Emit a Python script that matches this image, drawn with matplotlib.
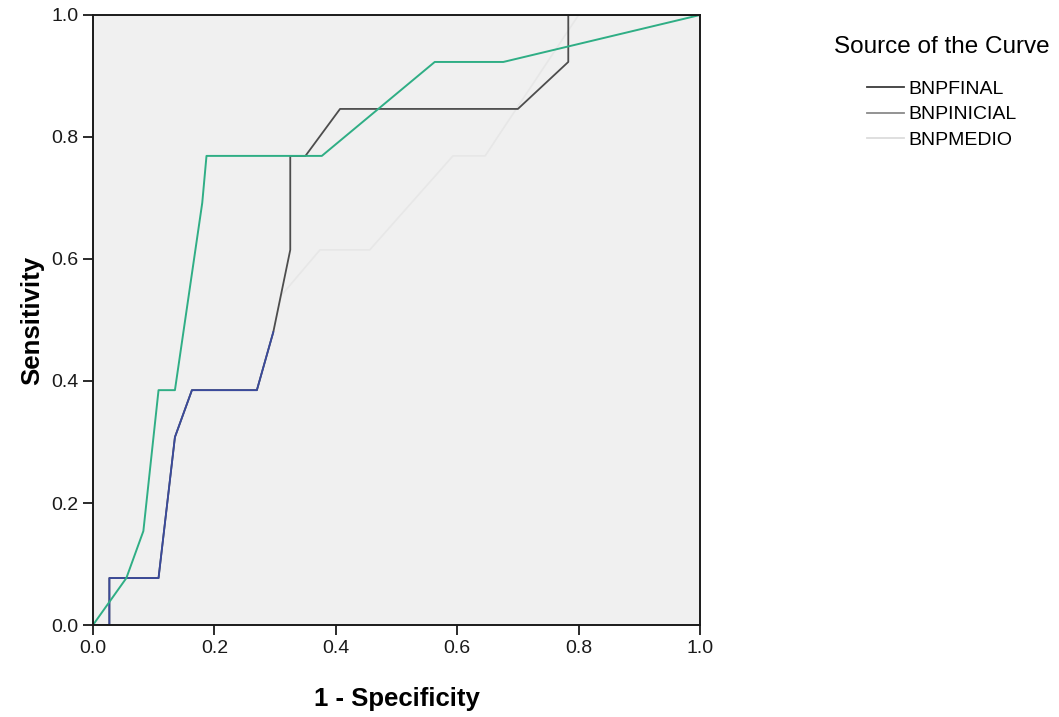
import matplotlib
matplotlib.use("Agg")
from matplotlib import pyplot as plt

plt.rcParams['font.family'] = ['Liberation Sans', 'DejaVu Sans']

# ROC points (1 - specificity, sensitivity)
fpr_final = [0.0, 0.027, 0.027, 0.108, 0.135, 0.163, 0.270, 0.297, 0.325, 0.325,
             0.350, 0.407, 0.700, 0.783, 0.783, 1.0]
tpr_final = [0.0, 0.0, 0.077, 0.077, 0.308, 0.385, 0.385, 0.480, 0.615, 0.769,
             0.769, 0.846, 0.846, 0.923, 1.0, 1.0]

fpr_inicial = [0.0, 0.055, 0.083, 0.108, 0.135, 0.180, 0.187, 0.377, 0.563, 0.676, 1.0]
tpr_inicial = [0.0, 0.077, 0.154, 0.385, 0.385, 0.692, 0.769, 0.769, 0.923, 0.923, 1.0]

# BNPMEDIO: only the lower part survives clearly, the rest is barely visible
fpr_medio = [0.0, 0.027, 0.027, 0.108, 0.135, 0.163, 0.270, 0.297,
             0.310, 0.374, 0.456, 0.593, 0.646, 0.800, 1.0]
tpr_medio = [0.0, 0.0, 0.077, 0.077, 0.308, 0.385, 0.385, 0.480,
             0.540, 0.615, 0.615, 0.769, 0.769, 1.0, 1.0]
medio_visible = 8

series_names = ['BNPFINAL', 'BNPINICIAL', 'BNPMEDIO']
legend_colors = ['#3c3c3c', '#8a8a8a', '#dcdcdc']

fig = plt.figure(figsize=(10.59, 7.17), dpi=100)
ax = fig.add_axes([0.0878, 0.1283, 0.5732, 0.8508])
ax.set_facecolor('#f0f0f0')

ax.plot(fpr_medio[medio_visible - 1:], tpr_medio[medio_visible - 1:],
        color='#e7e7e7', lw=1.2)
ax.plot(fpr_final, tpr_final, color='#4d4d4d', lw=1.3)
ax.plot(fpr_medio[:medio_visible], tpr_medio[:medio_visible], color='#3a4a9c', lw=1.3)
ax.plot(fpr_inicial, tpr_inicial, color='#2fae85', lw=1.4)

ax.set_xlim(0, 1)
ax.set_ylim(0, 1)
ticks = [0.0, 0.2, 0.4, 0.6, 0.8, 1.0]
ax.set_xticks(ticks)
ax.set_yticks(ticks)
ax.set_xticklabels(['%.1f' % t for t in ticks])
ax.set_yticklabels(['%.1f' % t for t in ticks])
ax.tick_params(direction='out', length=7, width=1.3, labelsize=14, colors='#1a1a1a')
for s in ax.spines.values():
    s.set_linewidth(1.4)
    s.set_color('#1a1a1a')

ax.set_xlabel('1 - Specificity', fontsize=18.5, fontweight='bold', labelpad=22)
ax.set_ylabel('Sensitivity', fontsize=18.5, fontweight='bold', labelpad=5)

handles = [plt.Line2D([], [], color=c, lw=1.3) for c in legend_colors]
leg = fig.legend(handles, series_names, title='Source of the Curve',
                 loc='upper left', bbox_to_anchor=(0.771, 0.974), frameon=False,
                 fontsize=14, title_fontsize=17.5, handlelength=1.9,
                 handletextpad=0.25, labelspacing=0.4)
leg._legend_box.sep = 16

fig.savefig('out.png', dpi=100)
